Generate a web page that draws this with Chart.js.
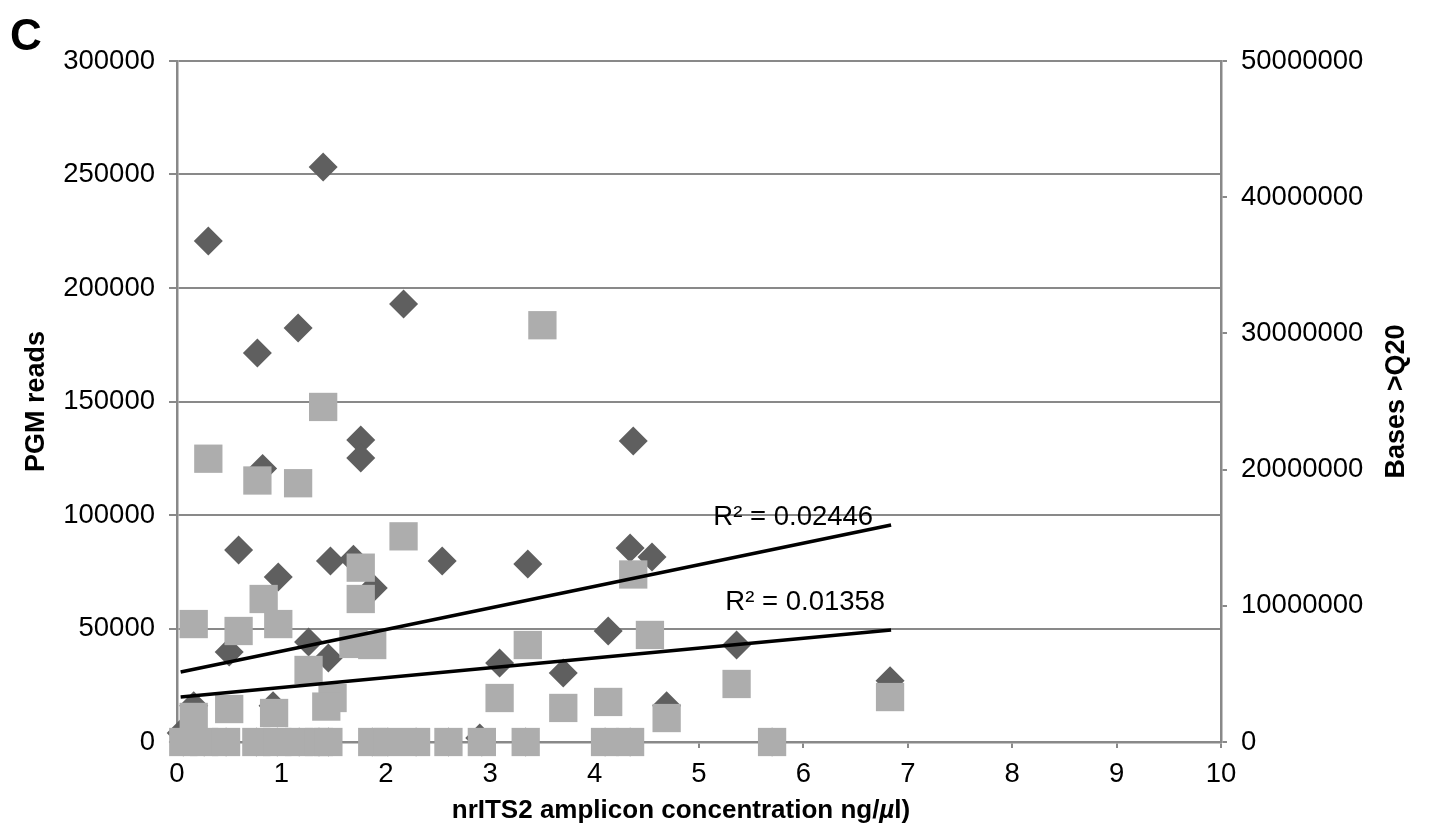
<!DOCTYPE html>
<html>
<head>
<meta charset="utf-8">
<script src="https://cdn.jsdelivr.net/npm/chart.js@4/dist/chart.umd.min.js"></script>
<style>
  html, body { margin: 0; padding: 0; background: #fff; }
  #wrap { width: 1430px; height: 837px; }
</style>
</head>
<body>
<div id="wrap"><canvas id="c" width="1430" height="837"></canvas></div>
<script>
// ---- Data ----
const pgmX = [0.30, 1.40, 2.17, 1.16, 0.77, 1.76, 1.76, 0.82, 4.37, 0.59, 1.47, 1.69, 2.54, 0.97, 1.88,
              3.36, 4.34, 4.55, 1.26, 0.50, 1.45, 4.13, 3.09, 3.70, 5.36, 0.16, 0.92, 4.69, 6.83, 2.90, 0.04,
              0.06, 0.26, 0.47, 0.76, 0.96, 1.17, 1.36, 1.45, 1.87, 2.02, 2.29, 2.60, 2.92, 3.34, 4.10, 4.34, 5.70];
const pgmReads = [220700, 253300, 193000, 182400, 171400, 133000, 125100, 120500, 132600, 84600, 79700, 80500, 79700, 72700, 67800,
                  78400, 85500, 81500, 44000, 39600, 37000, 48900, 34800, 30400, 42700, 16000, 16000, 16000, 27000, 1800, 4000,
                  0, 0, 0, 0, 0, 0, 0, 0, 0, 0, 0, 0, 0, 0, 0, 0, 0];

const basesX = [3.50, 1.40, 0.30, 0.77, 1.16, 2.17, 1.76, 4.37, 1.76, 0.83, 0.16, 0.59, 0.97, 4.53, 3.36,
                1.69, 1.87, 1.26, 5.36, 6.83, 1.49, 1.43, 3.09, 4.13, 3.70, 0.50, 0.93, 0.16, 4.69,
                0.06, 0.26, 0.47, 0.76, 0.96, 1.17, 1.36, 1.45, 1.87, 2.02, 2.29, 2.60, 2.92, 3.34, 4.10, 4.34, 5.70];
const basesQ20 = [30600000, 24600000, 20800000, 19200000, 19000000, 15100000, 12800000, 12300000, 10500000, 10500000, 8660000, 8150000, 8660000, 7860000, 7120000,
                  7200000, 7120000, 5290000, 4260000, 3300000, 3230000, 2600000, 3230000, 2940000, 2500000, 2420000, 2130000, 1840000, 1760000,
                  0, 0, 0, 0, 0, 0, 0, 0, 0, 0, 0, 0, 0, 0, 0, 0, 0];

// Trendlines (Excel linear fits as drawn)
const trendX = [0.035, 6.84];
const pgmTrend = [30800, 95600];
const basesTrend = [3300000, 8220000];
const r2Labels = ['R\u00B2 = 0.02446', 'R\u00B2 = 0.01358'];

const xTicks = { min: 0, max: 10, step: 1 };
const yLeftTicks = { min: 0, max: 300000, step: 50000 };
const yRightTicks = { min: 0, max: 50000000, step: 10000000 };

const panelLabel = 'C';
const xTitle = ['nrITS2 amplicon concentration ng/', '\u00B5', 'l)'];
const yLeftTitle = 'PGM reads';
const yRightTitle = 'Bases >Q20';

// ---- Build ----
const zip = (xs, ys) => xs.map((x, i) => ({ x: x, y: ys[i] }));
const FONT = '"Liberation Sans", Arial, Helvetica, sans-serif';
const GRID = '#898989';
const TICK_SIZE = 27.5;

const textPlugin = {
  id: 'texts',
  afterDraw(chart) {
    const ctx = chart.ctx;
    const xs = chart.scales.x, yl = chart.scales.y, yr = chart.scales.y2;
    const ca = chart.chartArea;
    ctx.save();
    ctx.fillStyle = '#000';
    // panel label
    ctx.font = 'bold 44px ' + FONT;
    ctx.textAlign = 'left';
    ctx.textBaseline = 'alphabetic';
    ctx.fillText(panelLabel, 10, 50);
    // R² labels
    ctx.font = TICK_SIZE + 'px ' + FONT;
    ctx.textAlign = 'right';
    ctx.textBaseline = 'middle';
    const ex = xs.getPixelForValue(trendX[1]);
    ctx.fillText(r2Labels[0], ex - 18, yl.getPixelForValue(pgmTrend[1]) - 8);
    ctx.fillText(r2Labels[1], ex - 6, yr.getPixelForValue(basesTrend[1]) - 28);
    // y titles (rotated, reading upward)
    ctx.font = 'bold 27px ' + FONT;
    ctx.textAlign = 'center';
    const cy = (ca.top + ca.bottom) / 2;
    [[yLeftTitle, 37], [yRightTitle, 1397]].forEach(([t, x]) => {
      ctx.save();
      ctx.translate(x, cy);
      ctx.rotate(-Math.PI / 2);
      ctx.fillText(t, 0, 0);
      ctx.restore();
    });
    // x title with italic micro sign
    ctx.textBaseline = 'alphabetic';
    ctx.textAlign = 'left';
    const fB = 'bold 26px ' + FONT, fI = 'italic bold 26px ' + FONT;
    ctx.font = fB; const w0 = ctx.measureText(xTitle[0]).width;
    ctx.font = fI; const w1 = ctx.measureText(xTitle[1]).width;
    ctx.font = fB; const w2 = ctx.measureText(xTitle[2]).width;
    let x0 = 681 - (w0 + w1 + w2) / 2;
    const by = 818;
    ctx.font = fB; ctx.fillText(xTitle[0], x0, by);
    ctx.font = fI; ctx.fillText(xTitle[1], x0 + w0, by);
    ctx.font = fB; ctx.fillText(xTitle[2], x0 + w0 + w1, by);
    ctx.restore();
  }
};

new Chart(document.getElementById('c'), {
  type: 'scatter',
  data: {
    datasets: [
      { type: 'line', label: 'PGM trend', data: zip(trendX, pgmTrend), yAxisID: 'y',
        borderColor: '#000', borderWidth: 3.5, pointRadius: 0, showLine: true, fill: false, order: 0 },
      { type: 'line', label: 'Bases trend', data: zip(trendX, basesTrend), yAxisID: 'y2',
        borderColor: '#000', borderWidth: 3.5, pointRadius: 0, showLine: true, fill: false, order: 0 },
      { label: 'Bases >Q20', data: zip(basesX, basesQ20), yAxisID: 'y2', clip: false,
        pointStyle: 'rect', pointRadius: 20, pointHoverRadius: 20, backgroundColor: '#adadad', borderWidth: 0, order: 1 },
      { label: 'PGM reads', data: zip(pgmX, pgmReads), yAxisID: 'y', clip: false,
        pointStyle: 'rectRot', pointRadius: 14.5, pointHoverRadius: 14.5, backgroundColor: '#5f5f5f', borderWidth: 0, order: 2 }
    ]
  },
  options: {
    responsive: false,
    animation: false,
    devicePixelRatio: 1,
    layout: { padding: { top: 61, left: 0, right: 0, bottom: 0 } },
    plugins: { legend: { display: false }, tooltip: { enabled: false } },
    scales: {
      x: {
        type: 'linear', min: xTicks.min, max: xTicks.max,
        ticks: { stepSize: xTicks.step, color: '#000', font: { family: FONT, size: TICK_SIZE }, padding: 10 },
        grid: { drawOnChartArea: false, drawTicks: true, tickLength: 6, color: GRID, lineWidth: 2 },
        border: { color: GRID, width: 2.5 },
        afterFit(s) { s.height = 95; }
      },
      y: {
        type: 'linear', position: 'left', min: yLeftTicks.min, max: yLeftTicks.max,
        ticks: { stepSize: yLeftTicks.step, color: '#000', font: { family: FONT, size: TICK_SIZE }, padding: 14,
                 callback: v => String(v) },
        grid: { color: GRID, lineWidth: 2, tickLength: 8 },
        border: { color: GRID, width: 2.5 },
        afterFit(s) { s.width = 177; }
      },
      y2: {
        type: 'linear', position: 'right', min: yRightTicks.min, max: yRightTicks.max,
        ticks: { stepSize: yRightTicks.step, color: '#000', font: { family: FONT, size: TICK_SIZE }, padding: 14,
                 callback: v => String(v) },
        grid: { drawOnChartArea: false, color: GRID, lineWidth: 2, tickLength: 6 },
        border: { color: GRID, width: 2.5 },
        afterFit(s) { s.width = 209; }
      }
    }
  },
  plugins: [textPlugin]
});
</script>
</body>
</html>
